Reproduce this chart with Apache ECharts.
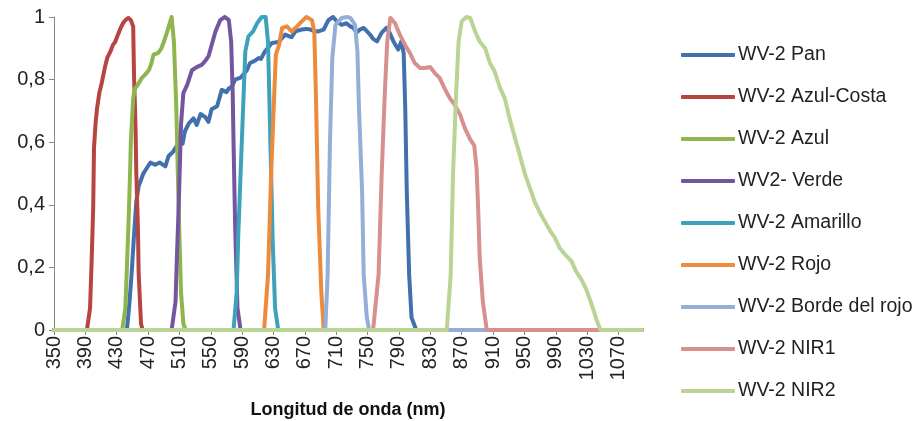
<!DOCTYPE html>
<html>
<head>
<meta charset="utf-8">
<script src="https://cdn.jsdelivr.net/npm/echarts@6/dist/echarts.min.js"></script>
<style>
html,body{margin:0;padding:0;background:#fff;}
#chart{width:919px;height:421px;}
</style>
</head>
<body>
<div id="chart"></div>
<script>
// Tick labels (nm)
var xTicks = [350,390,430,470,510,550,590,630,670,710,750,790,830,870,910,950,990,1030,1070];
var yTicks = [0,0.2,0.4,0.6,0.8,1];

var seriesNames = ['WV-2 Pan','WV-2 Azul-Costa','WV-2 Azul','WV2- Verde','WV-2 Amarillo','WV-2 Rojo','WV-2 Borde del rojo','WV-2 NIR1','WV-2 NIR2'];

// [wavelength nm, relative response]
var pan = [[350,0],[443,0],[446,0.08],[449,0.18],[452,0.30],[455,0.41],[458,0.46],[464,0.50],[469,0.52],[473,0.535],[479,0.528],[485,0.535],[492,0.523],[496,0.555],[502,0.57],[507,0.59],[511,0.60],[514,0.595],[517,0.635],[522,0.66],[528,0.676],[532,0.655],[537,0.69],[543,0.68],[547,0.665],[551,0.705],[558,0.715],[564,0.767],[570,0.76],[573,0.772],[577,0.778],[581,0.80],[588,0.806],[596,0.83],[600,0.853],[606,0.86],[611,0.869],[614,0.866],[619,0.89],[624,0.905],[628,0.917],[636,0.92],[645,0.944],[650,0.938],[653,0.936],[658,0.954],[666,0.96],[672,0.962],[677,0.96],[682,0.955],[687,0.954],[694,0.96],[700,0.99],[706,1.0],[711,0.985],[717,0.975],[723,0.98],[728,0.97],[732,0.965],[736,0.95],[740,0.96],[745,0.965],[749,0.955],[753,0.944],[757,0.93],[762,0.922],[768,0.95],[774,0.965],[778,0.95],[783,0.922],[789,0.896],[793,0.922],[796,0.885],[798,0.71],[800,0.44],[803,0.177],[806,0.04],[812,0],[1100,0]];
var azulCosta = [[350,0],[392,0],[396,0.07],[398,0.22],[400,0.39],[401,0.58],[403,0.66],[405,0.71],[408,0.76],[411,0.79],[415,0.84],[418,0.87],[422,0.89],[425,0.91],[428,0.92],[431,0.94],[435,0.965],[438,0.98],[441,0.99],[445,0.997],[448,0.99],[451,0.97],[452,0.82],[454,0.65],[455,0.50],[457,0.33],[458,0.18],[461,0.02],[463,0],[1100,0]];
var azul = [[350,0],[437,0],[441,0.07],[443,0.2],[445,0.34],[447,0.5],[448,0.60],[451,0.74],[453,0.77],[456,0.78],[462,0.805],[466,0.815],[471,0.83],[474,0.85],[477,0.88],[483,0.885],[487,0.9],[490,0.92],[494,0.95],[497,0.975],[500,1.0],[503,0.92],[506,0.71],[509,0.39],[512,0.12],[515,0.02],[518,0],[1100,0]];
var verde = [[350,0],[500,0],[505,0.09],[507,0.25],[509,0.39],[512,0.656],[515,0.757],[520,0.784],[526,0.83],[532,0.84],[539,0.848],[543,0.86],[547,0.874],[551,0.91],[556,0.954],[562,0.99],[568,1.0],[573,0.99],[576,0.92],[578,0.75],[579,0.60],[581,0.336],[584,0.07],[588,0],[1100,0]];
var amarillo = [[350,0],[579,0],[583,0.12],[585,0.3],[588,0.50],[592,0.76],[594,0.89],[598,0.938],[604,0.954],[609,0.98],[615,1.0],[620,1.0],[623,0.92],[626,0.60],[629,0.28],[632,0.07],[636,0],[1100,0]];
var rojo = [[350,0],[618,0],[623,0.177],[627,0.50],[631,0.76],[633,0.88],[637,0.91],[641,0.965],[647,0.97],[653,0.954],[660,0.97],[666,0.986],[672,1.0],[679,0.99],[682,0.954],[684,0.76],[687,0.39],[691,0.12],[694,0],[1100,0]];
var bordeRojo = [[350,0],[696,0],[699,0.177],[702,0.60],[705,0.87],[709,0.975],[717,0.997],[719,0.997],[724,1.0],[728,0.997],[734,0.975],[737,0.89],[739,0.71],[743,0.443],[745,0.177],[749,0.04],[752,0],[1100,0]];
var nir1 = [[350,0],[757,0],[764,0.177],[768,0.50],[772,0.76],[775,0.92],[779,0.997],[785,0.98],[791,0.944],[798,0.91],[804,0.885],[810,0.853],[817,0.837],[823,0.837],[830,0.84],[836,0.82],[842,0.805],[849,0.768],[855,0.74],[861,0.72],[868,0.688],[874,0.645],[881,0.608],[886,0.59],[889,0.517],[891,0.39],[893,0.23],[897,0.09],[902,0],[1100,0]];
var nir2 = [[350,0],[851,0],[856,0.177],[859,0.50],[863,0.76],[866,0.92],[870,0.986],[876,1.0],[881,0.997],[887,0.954],[893,0.922],[900,0.9],[906,0.853],[912,0.826],[919,0.773],[925,0.74],[931,0.677],[938,0.613],[944,0.56],[951,0.496],[957,0.454],[963,0.41],[970,0.374],[976,0.347],[982,0.32],[989,0.294],[995,0.262],[1004,0.235],[1010,0.22],[1016,0.187],[1023,0.16],[1029,0.129],[1036,0.08],[1042,0.033],[1047,0],[1100,0]];

var seriesData = [pan, azulCosta, azul, verde, amarillo, rojo, bordeRojo, nir1, nir2];
var colors = ['#4170AD','#B64441','#8FB54E','#7456A0','#3FA2BC','#EE8A3C','#93AED8','#D6908F','#B9D494'];

var FONT = '"Liberation Sans", Arial, sans-serif';
var chart = echarts.init(document.getElementById('chart'), null, {renderer:'canvas'});
chart.setOption({
  animation: false,
  color: colors,
  textStyle: {fontFamily: FONT},
  grid: {left: 54, right: 277, top: 17, bottom: 91, containLabel: false, outerBoundsMode: 'none'},
  legend: {
    orient: 'vertical',
    left: 681,
    top: 45,
    padding: 0,
    icon: 'roundRect',
    itemWidth: 54,
    itemHeight: 4,
    itemGap: 22,
    data: seriesNames,
    textStyle: {fontFamily: FONT, fontSize: 19.5, color: '#222', padding: [0,0,0,-2]}
  },
  xAxis: {
    type: 'value',
    min: 350,
    max: 1100,
    splitLine: {show: false},
    axisLine: {lineStyle: {color: '#868686', width: 1}},
    axisTick: {show: true, customValues: xTicks, length: 5, lineStyle: {color: '#868686'}},
    axisLabel: {customValues: xTicks, rotate: 90, fontSize: 20, color: '#222', margin: 6, fontFamily: FONT,
      formatter: function (v) { return String(v); }},
    name: 'Longitud de onda (nm)',
    nameLocation: 'middle',
    nameGap: 71,
    nameTextStyle: {fontFamily: FONT, fontWeight: 'bold', fontSize: 18, color: '#111'}
  },
  yAxis: {
    type: 'value',
    min: 0,
    max: 1,
    interval: 0.2,
    splitLine: {show: false},
    axisLine: {show: true, lineStyle: {color: '#868686', width: 1}},
    axisTick: {show: true, length: 5, lineStyle: {color: '#868686'}},
    axisLabel: {fontSize: 20, color: '#222', margin: 9, fontFamily: FONT,
      formatter: function (v) { return String(Math.round(v * 10) / 10).replace('.', ','); }}
  },
  series: seriesNames.map(function (name, i) {
    return {
      name: name,
      type: 'line',
      data: seriesData[i],
      symbol: 'none',
      smooth: false,
      lineStyle: {width: 4, color: colors[i], cap: 'round', join: 'round'},
      itemStyle: {color: colors[i]},
      emphasis: {disabled: true}
    };
  })
});
</script>
</body>
</html>
